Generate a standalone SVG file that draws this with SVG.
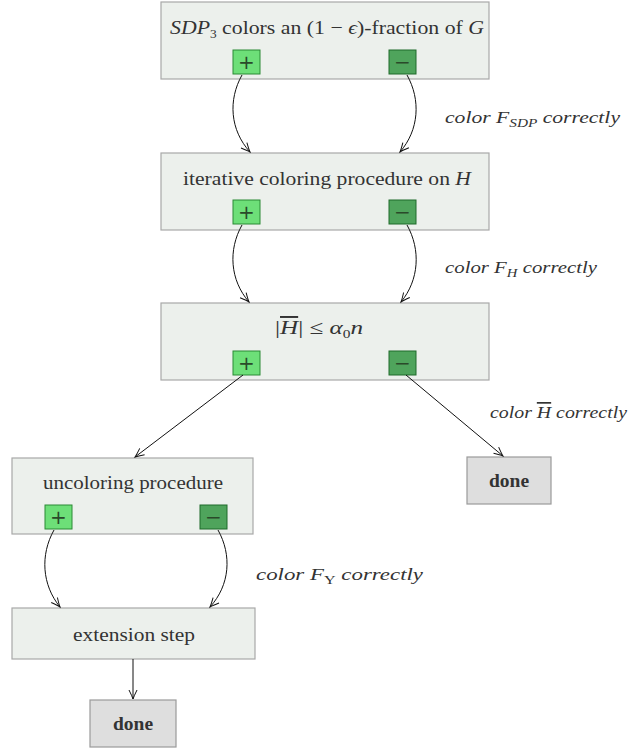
<svg xmlns="http://www.w3.org/2000/svg" width="633" height="751" viewBox="0 0 633 751">
<style>
.box{fill:#ecf0ec;stroke:#a8a8a8;stroke-width:1.2}
.done{fill:#dedede;stroke:#9a9a9a;stroke-width:1.2}
.lbl{font-family:"Liberation Serif","DejaVu Serif",serif;font-size:19.5px;fill:#333;text-anchor:middle}
.bold{font-weight:bold}
.plus{fill:#6ddf78;stroke:#2b8a34;stroke-width:1}
.minus{fill:#4fa45c;stroke:#1f6a2a;stroke-width:1}
.sym{font-family:"DejaVu Sans",sans-serif;font-size:20px;fill:#2a4a2a;text-anchor:middle}
.edge{fill:none;stroke:#111;stroke-width:1}
.note{font-family:"Liberation Serif","DejaVu Serif",serif;font-size:17px;font-style:italic;fill:#333}
.sub{font-size:12px}
.ov{text-decoration:overline}
</style>
<defs>
<marker id="arr" markerWidth="12" markerHeight="12" refX="0" refY="0" viewBox="-10 -6 12 12" orient="auto" markerUnits="userSpaceOnUse">
<path d="M -9 -4 Q -3 -1 0 0 Q -3 1 -9 4" fill="none" stroke="#111" stroke-width="1"/>
</marker>
</defs>

<g id="n1">
<rect class="box" x="161" y="2" width="328" height="77"/>
<text class="lbl" x="327" y="34" textLength="314" lengthAdjust="spacingAndGlyphs"><tspan font-style="italic">SDP</tspan><tspan class="sub" dy="4">3</tspan><tspan dy="-4"> colors an (1 − </tspan><tspan font-style="italic">ϵ</tspan><tspan>)-fraction of </tspan><tspan font-style="italic">G</tspan></text>
<rect class="plus" x="233" y="50" width="27" height="24"/><text class="sym" x="246.5" y="69">+</text>
<rect class="minus" x="389" y="50" width="27" height="24"/><text class="sym" x="402.5" y="69">−</text>
</g>

<g id="n2">
<rect class="box" x="161" y="153" width="328" height="77"/>
<text class="lbl" x="327" y="185" textLength="288" lengthAdjust="spacingAndGlyphs">iterative coloring procedure on <tspan font-style="italic">H</tspan></text>
<rect class="plus" x="233" y="200" width="27" height="24"/><text class="sym" x="246.5" y="219">+</text>
<rect class="minus" x="389" y="200" width="27" height="24"/><text class="sym" x="402.5" y="219">−</text>
</g>

<g id="n3">
<rect class="box" x="161" y="303" width="328" height="77"/>
<text class="lbl" x="319" y="334" textLength="88" lengthAdjust="spacingAndGlyphs">|<tspan font-style="italic" class="ov">H</tspan>| ≤ <tspan font-style="italic">α</tspan><tspan class="sub" dy="4">0</tspan><tspan dy="-4" font-style="italic">n</tspan></text>
<rect class="plus" x="233" y="351" width="27" height="24"/><text class="sym" x="246.5" y="370">+</text>
<rect class="minus" x="389" y="351" width="27" height="24"/><text class="sym" x="402.5" y="370">−</text>
</g>

<g id="n4">
<rect class="box" x="12" y="458" width="241" height="76"/>
<text class="lbl" x="133" y="489" textLength="180" lengthAdjust="spacingAndGlyphs">uncoloring procedure</text>
<rect class="plus" x="45" y="505" width="27" height="24"/><text class="sym" x="58.5" y="524">+</text>
<rect class="minus" x="200" y="505" width="27" height="24"/><text class="sym" x="213.5" y="524">−</text>
</g>

<g id="n5">
<rect class="box" x="12" y="608" width="243" height="51"/>
<text class="lbl" x="134" y="641" textLength="122" lengthAdjust="spacingAndGlyphs">extension step</text>
</g>

<g id="done1">
<rect class="done" x="467" y="457" width="84" height="47"/>
<text class="lbl bold" x="509" y="487">done</text>
</g>

<g id="done2">
<rect class="done" x="90" y="700" width="86" height="47"/>
<text class="lbl bold" x="133" y="730">done</text>
</g>

<g id="edges">
<path class="edge" d="M 242 75 C 228 100, 230 130, 250 152" marker-end="url(#arr)"/>
<path class="edge" d="M 407 75 C 421 100, 419 130, 400 152" marker-end="url(#arr)"/>
<path class="edge" d="M 242 225 C 228 250, 230 280, 249 302" marker-end="url(#arr)"/>
<path class="edge" d="M 407 225 C 421 250, 419 280, 401 302" marker-end="url(#arr)"/>
<path class="edge" d="M 243 375 L 135 457" marker-end="url(#arr)"/>
<path class="edge" d="M 406 375 L 503 456" marker-end="url(#arr)"/>
<path class="edge" d="M 54 530 C 40 555, 42 585, 60 607" marker-end="url(#arr)"/>
<path class="edge" d="M 218 530 C 232 555, 230 585, 210 607" marker-end="url(#arr)"/>
<path class="edge" d="M 133 659 L 133 699" marker-end="url(#arr)"/>
</g>

<g id="labels">
<text class="note" x="445" y="123" textLength="175" lengthAdjust="spacingAndGlyphs">color <tspan>F</tspan><tspan class="sub" dy="4">SDP</tspan><tspan dy="-4"> correctly</tspan></text>
<text class="note" x="445" y="273" textLength="152" lengthAdjust="spacingAndGlyphs">color <tspan>F</tspan><tspan class="sub" dy="4">H</tspan><tspan dy="-4"> correctly</tspan></text>
<text class="note" x="490" y="418" textLength="137" lengthAdjust="spacingAndGlyphs">color <tspan class="ov">H</tspan> correctly</text>
<text class="note" x="256" y="580" textLength="167" lengthAdjust="spacingAndGlyphs">color <tspan>F</tspan><tspan class="sub" dy="4" font-style="normal">Υ</tspan><tspan dy="-4"> correctly</tspan></text>
</g>
</svg>
